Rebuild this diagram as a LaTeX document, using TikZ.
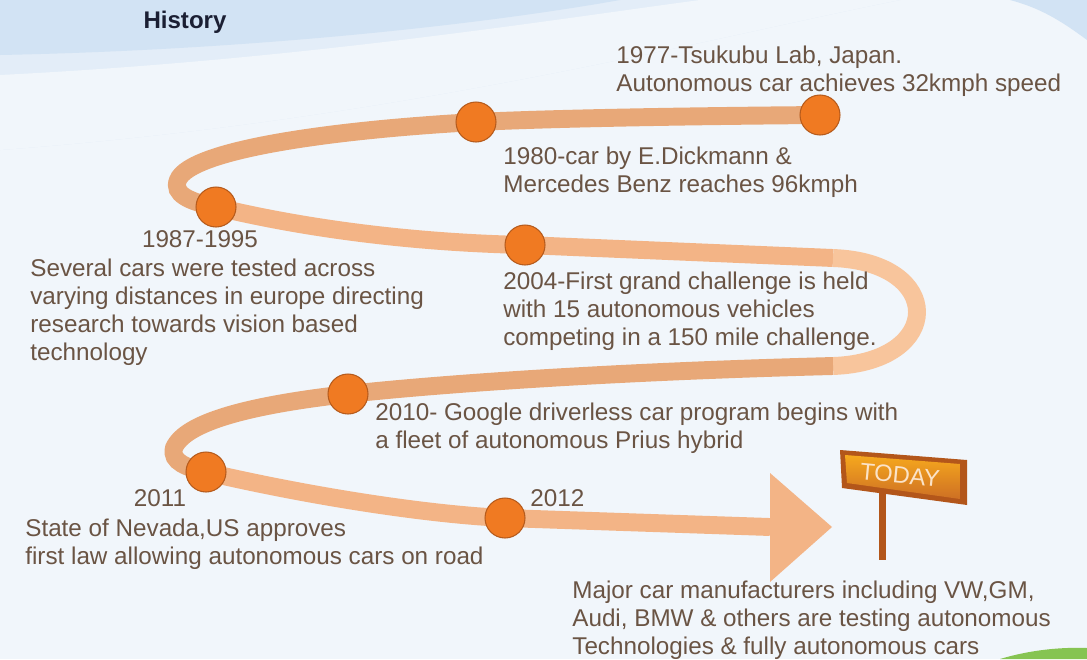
\documentclass[tikz,border=0pt]{standalone}
\usepackage{fontspec}
\setmainfont{Liberation Sans}
\usepackage{tikz}
\definecolor{bgblue}{HTML}{F1F6FB}
\definecolor{waveblue}{HTML}{D2E3F4}
\definecolor{wavesoft}{HTML}{E3EDF8}
\definecolor{ribdark}{HTML}{E8A878}
\definecolor{riblight}{HTML}{F3B486}
\definecolor{ribloop}{HTML}{F8C59C}
\definecolor{dotorange}{HTML}{F07A22}
\definecolor{dotedge}{HTML}{B65B1C}
\definecolor{txtbrown}{HTML}{6A5444}
\definecolor{titleblue}{HTML}{1B1F33}
\definecolor{signorange}{HTML}{F2832A}
\definecolor{signdark}{HTML}{B3561A}
\definecolor{todaytext}{HTML}{FBE3C8}
\definecolor{grassgreen}{HTML}{86C452}

\begin{document}
\begin{tikzpicture}[x=0.02cm,y=-0.02cm]
	\tikzstyle{every node}+=[inner sep=0pt]
	\tikzstyle{dot}=[circle, minimum size=0.8cm, fill=dotorange, draw=dotedge, line width=0.6pt]
	\tikzstyle{band}=[line width=10.2pt]
	\tikzstyle{info}=[anchor=north west, align=left, text=txtbrown, font=\fontsize{13.8}{15.9}\selectfont]
	\tikzstyle{year}=[anchor=north, text=txtbrown, font=\fontsize{13.8}{15.9}\selectfont]
	\useasboundingbox (0,0) rectangle (1087,659);
	\fill [bgblue] (0,0) rectangle (1087,659);
	\fill [wavesoft] (0,0) -- (900,0) .. controls (700,40) and (400,120) .. (0,150) -- cycle;
	\fill [bgblue] (0,75) .. controls (300,60) and (550,20) .. (700,0) -- (900,0) .. controls (700,40) and (400,120) .. (0,150) -- cycle;
	\fill [waveblue] (0,0) -- (620,0) .. controls (480,25) and (250,50) .. (0,55) -- cycle;
	\fill [waveblue] (1010,0) -- (1087,0) -- (1087,40) .. controls (1060,20) and (1040,8) .. (1010,0) -- cycle;
	\fill [grassgreen] (1000,659) .. controls (1030,650) and (1060,647) .. (1087,648) -- (1087,659) -- cycle;
	\node [font=\fontsize{13.7}{16}\selectfont\bfseries, text=titleblue] (title) at (185,22) {History};
	% ribbon
	\coordinate (p1977) at (820,115);
	\coordinate (p1980) at (476,122);
	\coordinate (p1987) at (216,207);
	\coordinate (p2004) at (525,245);
	\coordinate (p2010) at (348,394);
	\coordinate (p2011) at (206,472);
	\coordinate (p2012) at (505,518);
	\coordinate (lturn1) at (178,180);
	\coordinate (lturn2) at (174,448);
	\coordinate (rtop) at (833,258);
	\coordinate (rbot) at (833,366);
	\coordinate (tipbase) at (770,527);
	\coordinate (headtop) at (770,473);
	\coordinate (headbot) at (770,582);
	\coordinate (tip) at (832,527);
	\draw [band, ribdark] (p1977) .. controls (700,116) and (560,118) .. (p1980) .. controls (330,130) and (190,150) .. (lturn1) .. controls (172,194) and (190,202) .. (p1987);
	\draw [band, riblight] (p1987) .. controls (320,232) and (430,243) .. (p2004) -- (rtop);
	\draw [band, ribloop] (rtop) .. controls (945,262) and (945,362) .. (rbot);
	\draw [band, ribdark] (rbot) .. controls (600,372) and (430,385) .. (p2010) .. controls (250,405) and (185,422) .. (lturn2) .. controls (170,462) and (188,468) .. (p2011);
	\draw [band, riblight] (p2011) .. controls (300,494) and (420,514) .. (p2012) -- (tipbase);
	\fill [riblight] (headtop) -- (tip) -- (headbot) -- cycle;
	% milestones
	\node [dot] (c1977) at (p1977) {};
	\node [dot] (c1980) at (p1980) {};
	\node [dot] (c1987) at (p1987) {};
	\node [dot] (c2004) at (p2004) {};
	\node [dot] (c2010) at (p2010) {};
	\node [dot] (c2011) at (p2011) {};
	\node [dot] (c2012) at (p2012) {};
	\node [info] (t1977) at (616,46) {1977-Tsukubu Lab, Japan.\\Autonomous car achieves 32kmph speed};
	\node [info] (t1980) at (503,147) {1980-car by E.Dickmann \&\\Mercedes Benz reaches 96kmph};
	\node [year] (y1987) at (200,230) {1987-1995};
	\node [info] (t1987) at (30,259) {Several cars were tested across\\varying distances in europe directing\\research towards vision based\\technology};
	\node [info] (t2004) at (503,272) {2004-First grand challenge is held\\with 15 autonomous vehicles\\competing in a 150 mile challenge.};
	\node [info] (t2010) at (375,403) {2010- Google driverless car program begins with\\a fleet of autonomous Prius hybrid};
	\node [year] (y2011) at (160,489) {2011};
	\node [info] (t2011) at (25,519) {State of Nevada,US approves\\first law allowing autonomous cars on road};
	\node [info] (y2012) at (530,489) {2012};
	\node [info] (tmajor) at (572,581) {Major car manufacturers including VW,GM,\\Audi, BMW \& others are testing autonomous\\Technologies \& fully autonomous cars};
	% today sign
	\fill [signdark] (879,486) rectangle (886,560);
	\fill [signdark] (840,450) -- (967,460) -- (967,505) -- (842,488) -- cycle;
	\shade [top color=signorange!70!yellow, bottom color=signorange!85!black] (845,455) -- (960,464) -- (960,499) -- (847,483) -- cycle;
	\node [rotate=-5.5, text=todaytext, font=\fontsize{13.5}{16}\selectfont] (today) at (900,475) {TODAY};
\end{tikzpicture}
\end{document}
